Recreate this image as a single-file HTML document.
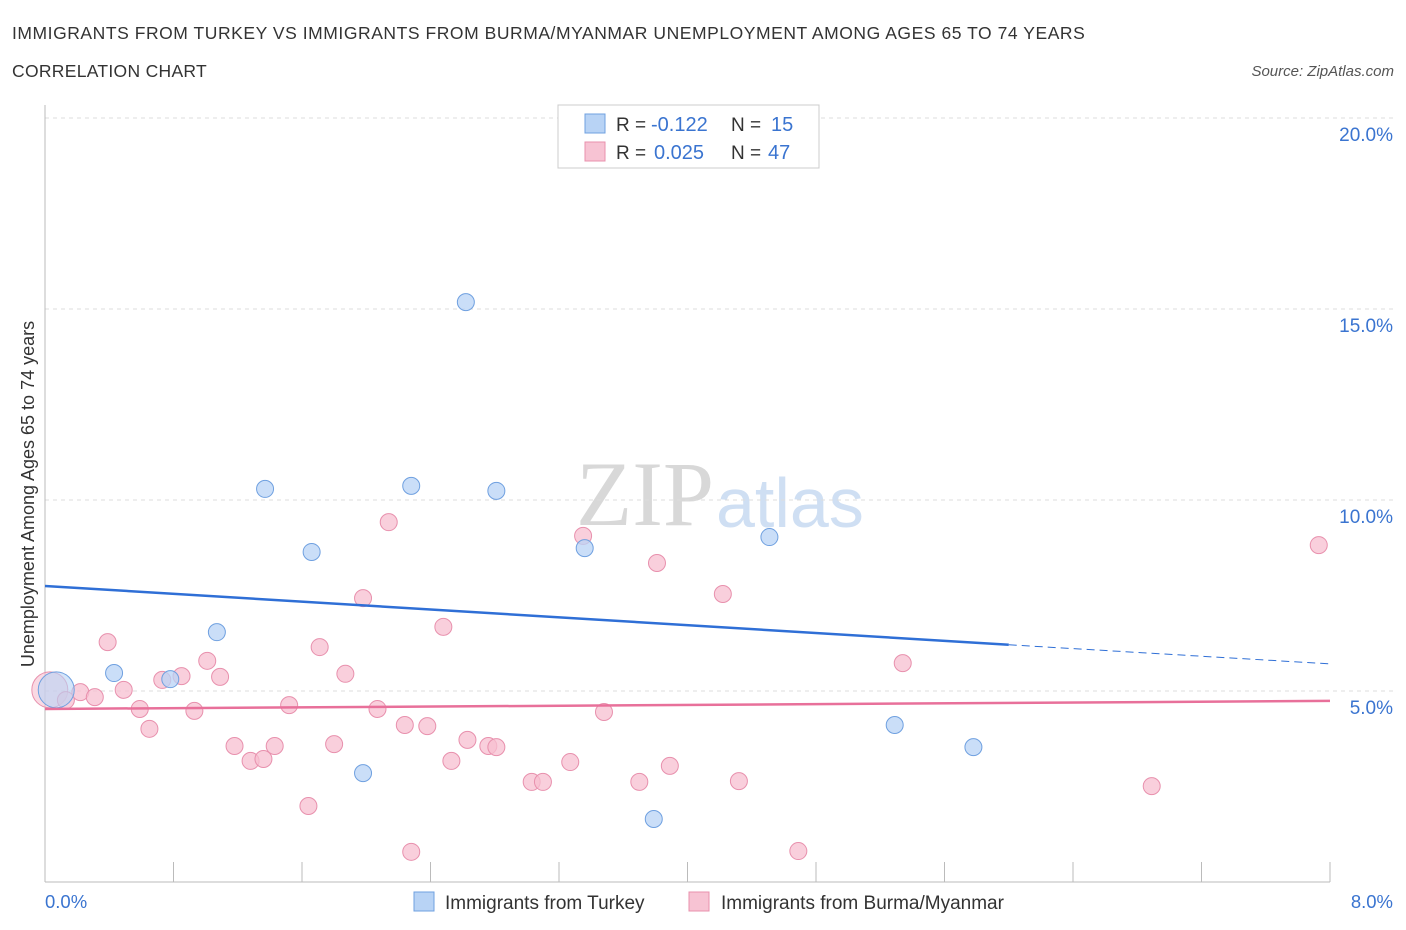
<!DOCTYPE html>
<html><head><meta charset="utf-8"><style>
body{margin:0;background:#fff;font-family:"Liberation Sans",sans-serif;}
</style></head><body>
<svg id="c" width="1406" height="930" style="position:absolute;left:0;top:0">
<text x="12" y="39" font-size="17.5" letter-spacing="0.55" fill="#333">IMMIGRANTS FROM TURKEY VS IMMIGRANTS FROM BURMA/MYANMAR UNEMPLOYMENT AMONG AGES 65 TO 74 YEARS</text>
<text x="12" y="77" font-size="17.5" letter-spacing="0.3" fill="#333">CORRELATION CHART</text>
<text x="1394" y="76" font-size="15" fill="#555" font-style="italic" text-anchor="end">Source: ZipAtlas.com</text>
<text x="714" y="525" font-size="92" fill="#d8d8d8" font-family="Liberation Serif" text-anchor="end">ZIP</text>
<text x="716" y="527" font-size="70" fill="#cfdff3">atlas</text>
<g id="grid"></g><g id="marks"></g>
<text transform="translate(34,494) rotate(-90)" font-size="18" fill="#333" text-anchor="middle">Unemployment Among Ages 65 to 74 years</text>
<text x="45" y="908" font-size="18.5" fill="#3a74d0">0.0%</text>
<text x="1393" y="908" font-size="18.5" fill="#3a74d0" text-anchor="end">8.0%</text>
<g>
<rect x="558" y="105" width="261" height="63" fill="#fff" stroke="#ccc"/>
<rect x="585" y="114" width="20" height="19" fill="#b8d3f5" stroke="#6fa0e0"/>
<rect x="585" y="142" width="20" height="19" fill="#f7c3d3" stroke="#e890ad"/>
<text x="616" y="131" font-size="19" fill="#333">R =</text>
<text x="651" y="131" font-size="20" fill="#3a74d0">-0.122</text>
<text x="731" y="131" font-size="19" fill="#333">N =</text>
<text x="771" y="131" font-size="20" fill="#3a74d0">15</text>
<text x="616" y="159" font-size="19" fill="#333">R =</text>
<text x="654" y="159" font-size="20" fill="#3a74d0">0.025</text>
<text x="731" y="159" font-size="19" fill="#333">N =</text>
<text x="768" y="159" font-size="20" fill="#3a74d0">47</text>
</g>
<g>
<rect x="414" y="892" width="20" height="19" fill="#b8d3f5" stroke="#6fa0e0"/>
<text x="445" y="909" font-size="19" fill="#333">Immigrants from Turkey</text>
<rect x="689" y="892" width="20" height="19" fill="#f7c3d3" stroke="#e890ad"/>
<text x="721" y="909" font-size="19" fill="#333">Immigrants from Burma/Myanmar</text>
</g>
</svg>
<script>
const yTicks=[5,10,15,20];
const yTickLabels=["5.0%","10.0%","15.0%","20.0%"];
const xTicks=[0,0.8,1.6,2.4,3.2,4,4.8,5.6,6.4,7.2,8];
const turkeyX=[0.07,0.43,0.78,1.07,1.37,1.66,1.98,2.28,2.62,2.81,3.36,3.79,4.51,5.29,5.78];
const turkeyY=[5.03,5.47,5.31,6.54,10.29,8.64,2.85,10.37,15.18,10.24,8.74,1.65,9.03,4.11,3.53];
const burmaX=[0.03,0.13,0.22,0.31,0.39,0.49,0.59,0.65,0.73,0.85,0.93,1.01,1.09,1.18,1.28,1.36,1.43,1.52,1.64,1.71,1.80,1.87,1.98,2.07,2.14,2.24,2.28,2.38,2.48,2.53,2.63,2.76,2.81,3.03,3.10,3.27,3.35,3.48,3.70,3.81,3.89,4.22,4.32,4.69,5.34,6.89,7.93];
const burmaY=[5.03,4.76,4.97,4.84,6.28,5.03,4.53,4.01,5.29,5.39,4.48,5.79,5.37,3.56,3.17,3.22,3.56,4.63,1.99,6.15,3.61,5.45,7.43,4.53,9.42,4.11,0.79,4.08,6.68,3.17,3.72,3.56,3.53,2.62,2.62,3.14,9.06,4.45,2.62,8.35,3.04,7.54,2.64,0.81,5.73,2.51,8.82];
const turkeyTrend=[7.75,6.21,5.71]; const turkeyTrendX=[0,6.0,8];
const burmaTrend=[4.53,4.74]; const burmaTrendX=[0,8];
const NS="http://www.w3.org/2000/svg";
const sx=v=>45+v/8*1285, sy=v=>882-v/5*191;
function mk(t,a,p){const e=document.createElementNS(NS,t);for(const k in a)e.setAttribute(k,a[k]);p.appendChild(e);return e;}
const g=document.getElementById('grid'), m=document.getElementById('marks');
yTicks.forEach((v,i)=>{
 const l=mk('line',{x1:45,x2:1393,y1:sy(v),y2:sy(v),stroke:'#ddd','stroke-dasharray':'4,4'},g);
 
 
 const t=mk('text',{x:1393,y:sy(v)+23,'font-size':19,fill:'#3a74d0','text-anchor':'end'},g);
 t.textContent=yTickLabels[i];
 
 
});
let a=mk('line',{x1:45,x2:45,y1:105,y2:882,stroke:'#bbb'},g);


a=mk('line',{x1:45,x2:1330,y1:882,y2:882,stroke:'#bbb'},g);


xTicks.forEach(v=>{const t=mk('line',{x1:sx(v),x2:sx(v),y1:862,y2:882,stroke:'#bbb'},g);
 
 });
function pts(X,Y,fill,stroke,name){X.forEach((x,i)=>{const c=mk('circle',{cx:sx(x),cy:sy(Y[i]),r:i==0?18:8.5,fill:fill,'fill-opacity':i==0?0.6:0.75,stroke:stroke,'stroke-width':1},m);
 
 });}
pts(burmaX,burmaY,'#f7bfd0','#e890ad','burma-point');
pts(turkeyX,turkeyY,'#b8d3f5','#6fa0e0','turkey-point');
let l=mk('line',{x1:sx(turkeyTrendX[0]),y1:sy(turkeyTrend[0]),x2:sx(turkeyTrendX[1]),y2:sy(turkeyTrend[1]),stroke:'#2f6fd6','stroke-width':2.5},m);


l=mk('line',{x1:sx(turkeyTrendX[1]),y1:sy(turkeyTrend[1]),x2:sx(turkeyTrendX[2]),y2:sy(turkeyTrend[2]),stroke:'#2f6fd6','stroke-width':1,'stroke-dasharray':'8,5'},m);


l=mk('line',{x1:sx(burmaTrendX[0]),y1:sy(burmaTrend[0]),x2:sx(burmaTrendX[1]),y2:sy(burmaTrend[1]),stroke:'#e8709a','stroke-width':2.5},m);


</script>
</body></html>
